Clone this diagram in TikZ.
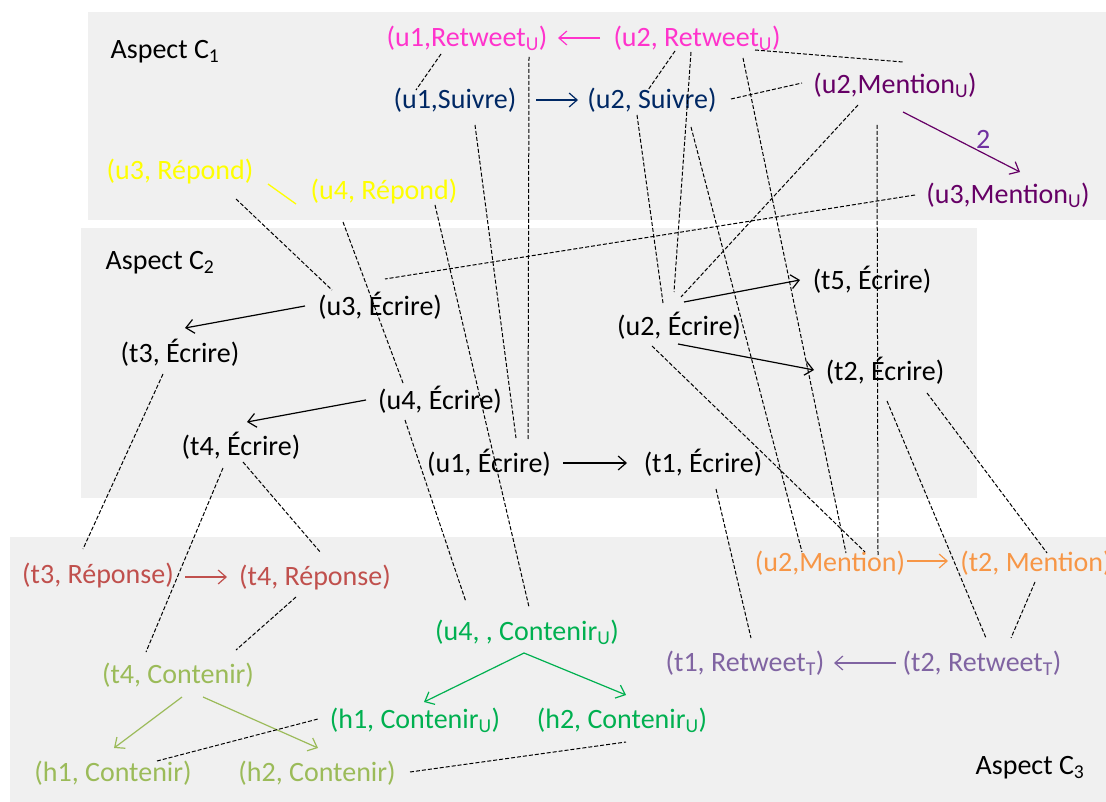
\documentclass[tikz,border=0pt]{standalone}
\usepackage{fontspec}
\setmainfont{Carlito}
\usetikzlibrary{arrows.meta,calc}
\definecolor{boxgray}{RGB}{240,240,240}
\definecolor{cRetU}{RGB}{255,51,204}
\definecolor{cSuiv}{RGB}{0,40,100}
\definecolor{cMenU}{RGB}{102,0,102}
\definecolor{cTwo}{RGB}{112,48,160}
\definecolor{cRep}{RGB}{255,255,0}
\definecolor{cReponse}{RGB}{192,80,77}
\definecolor{cCont}{RGB}{155,187,89}
\definecolor{cContU}{RGB}{0,176,80}
\definecolor{cMen}{RGB}{247,150,70}
\definecolor{cRetT}{RGB}{128,100,162}
\begin{document}
\begin{tikzpicture}[x=1pt,y=-1pt,
  lbl/.style={inner sep=0pt, font=\fontsize{28}{32}\selectfont},
  link/.style={black, line width=1pt, dash pattern=on 4pt off 2pt},
  arr/.style={line width=1.2pt, -{Straight Barb[length=8pt,width=14pt]}},
  aspectbox/.style={fill=boxgray, draw=none}]
\useasboundingbox (0,0) rectangle (1106,802);
% aspect boxes
\fill[aspectbox] (88,12) rectangle (1112,220);
\fill[aspectbox] (81,228) rectangle (977,498);
\fill[aspectbox] (10,537) rectangle (1112,808);
% aspect C1
\node[lbl] (asp1) at (165,52) {Aspect C\textsubscript{1}};
\node[lbl, text=cRetU] (u1R) at (467,38) {(u1,Retweet\textsubscript{U})};
\node[lbl, text=cRetU] (u2R) at (697,38) {(u2, Retweet\textsubscript{U})};
\node[lbl, text=cSuiv] (u1S) at (455,100) {(u1,Suivre)};
\node[lbl, text=cSuiv] (u2S) at (652,100) {(u2, Suivre)};
\node[lbl, text=cMenU] (u2MU) at (895,85) {(u2,Mention\textsubscript{U})};
\node[lbl, text=cMenU] (u3MU) at (1008,195) {(u3,Mention\textsubscript{U})};
\node[lbl, text=cRep] (u3Rp) at (180,172) {(u3, Répond)};
\node[lbl, text=cRep] (u4Rp) at (384,192) {(u4, Répond)};
% aspect C2
\node[lbl] (asp2) at (160,263) {Aspect C\textsubscript{2}};
\node[lbl] (u3E) at (380,306) {(u3, Écrire)};
\node[lbl] (t3E) at (180,353) {(t3, Écrire)};
\node[lbl] (u4E) at (440,400) {(u4, Écrire)};
\node[lbl] (t4E) at (241,446) {(t4, Écrire)};
\node[lbl] (u1E) at (489,463) {(u1, Écrire)};
\node[lbl] (t1E) at (703,463) {(t1, Écrire)};
\node[lbl] (u2E) at (679,326) {(u2, Écrire)};
\node[lbl] (t5E) at (872,280) {(t5, Écrire)};
\node[lbl] (t2E) at (885,371) {(t2, Écrire)};
% aspect C3
\node[lbl] (asp3) at (1030,768) {Aspect C\textsubscript{3}};
\node[lbl, text=cReponse] (t3Rs) at (98,576) {(t3, Réponse)};
\node[lbl, text=cReponse] (t4Rs) at (315,578) {(t4, Réponse)};
\node[lbl, text=cCont] (t4C) at (178,675) {(t4, Contenir)};
\node[lbl, text=cCont] (h1C) at (113,773) {(h1, Contenir)};
\node[lbl, text=cCont] (h2C) at (317,773) {(h2, Contenir)};
\node[lbl, text=cContU] (u4CU) at (527,632) {(u4, , Contenir\textsubscript{U})};
\node[lbl, text=cContU] (h1CU) at (415,720) {(h1, Contenir\textsubscript{U})};
\node[lbl, text=cContU] (h2CU) at (622,720) {(h2, Contenir\textsubscript{U})};
\node[lbl, text=cMen] (u2M) at (830,563) {(u2,Mention)};
\node[lbl, text=cMen] (t2M) at (1036,563) {(t2, Mention)};
\node[lbl, text=cRetT] (t1RT) at (745,663) {(t1, Retweet\textsubscript{T})};
\node[lbl, text=cRetT] (t2RT) at (982,663) {(t2, Retweet\textsubscript{T})};
% solid arrows
\draw[arr, cMenU] ($(u2MU)+(8,27)$) -- node[pos=0.62, anchor=south west, lbl, text=cTwo] (lab2) {2} ($(u3MU)+(12,-23)$);
\draw[arr, cRetU] ($(u2R)+(-97,0)$) -- ($(u1R)+(91,0)$);
\draw[arr, cSuiv] ($(u1S)+(81,0)$) -- ($(u2S)+(-74,0)$);
\draw[cRep, line width=1.3pt] ($(u3Rp)+(88,12)$) -- ($(u4Rp)+(-88,12)$);
\draw[arr, black] ($(u3E)+(-75,0)$) -- ($(t3E)+(5,-25)$);
\draw[arr, black] ($(u4E)+(-74,0)$) -- ($(t4E)+(6,-24)$);
\draw[arr, black] ($(u1E)+(74,0)$) -- ($(t1E)+(-76,0)$);
\draw[arr, black] ($(u2E)+(5,-24)$) -- ($(t5E)+(-72,0)$);
\draw[arr, black] ($(u2E)+(-1,18)$) -- ($(t2E)+(-71,-1)$);
\draw[arr, cReponse] ($(t3Rs)+(87,1)$) -- ($(t4Rs)+(-88,-1)$);
\draw[arr, cCont] ($(t4C)+(4,22)$) -- ($(h1C)+(1,-25)$);
\draw[arr, cCont] ($(t4C)+(25,22)$) -- ($(h2C)+(1,-25)$);
\draw[arr, cContU] ($(u4CU)+(-3,21)$) -- ($(h1CU)+(9,-18)$);
\draw[arr, cContU] ($(u4CU)+(-3,21)$) -- ($(h2CU)+(4,-25)$);
\draw[arr, cMen] ($(u2M)+(77,-2)$) -- ($(t2M)+(-88,-2)$);
\draw[arr, cRetT] ($(t2RT)+(-86,0)$) -- ($(t1RT)+(89,0)$);
% dashed correspondences
\draw[link] ($(u1R)+(-26,16)$) -- ($(u1S)+(-39,-10)$);
\draw[link] ($(u1R)+(62,19)$) -- ($(u1E)+(39,-23)$);
\draw[link] ($(u1S)+(20,25)$) -- ($(u1E)+(27,-25)$);
\draw[link] ($(u3Rp)+(56,27)$) -- ($(u3E)+(-48,-16)$);
\draw[link] ($(u4Rp)+(-41,30)$) -- ($(u4E)+(-37,-17)$);
\draw[link] ($(u4E)+(-35,20)$) -- ($(u4CU)+(-61,-30)$);
\draw[link] ($(u4Rp)+(51,13)$) -- ($(u4CU)+(2,-25)$);
\draw[link] ($(u2R)+(-22,13)$) -- ($(u2S)+(-4,-10)$);
\draw[link] ($(u2R)+(-6,14)$) -- ($(u2E)+(-5,-34)$);
\draw[link] ($(u2R)+(46,20)$) -- ($(u2M)+(16,-10)$);
\draw[link] ($(u2R)+(58,12)$) -- ($(u2MU)+(8,-23)$);
\draw[link] ($(u2S)+(79,-1)$) -- ($(u2MU)+(-93,-2)$);
\draw[link] ($(u2S)+(-15,15)$) -- ($(u2E)+(-16,-23)$);
\draw[link] ($(u2S)+(39,27)$) -- ($(u2M)+(-28,-11)$);
\draw[link] ($(u2MU)+(-37,20)$) -- ($(u2E)+(2,-29)$);
\draw[link] ($(u2MU)+(-18,40)$) -- ($(u2M)+(48,-7)$);
\draw[link] ($(u3MU)+(-93,0)$) -- ($(u3E)+(5,-27)$);
\draw[link] ($(u2E)+(-27,20)$) -- ($(u2M)+(35,-11)$);
\draw[link] ($(t1E)+(13,26)$) -- ($(t1RT)+(6,-25)$);
\draw[link] ($(t2E)+(2,30)$) -- ($(t2RT)+(4,-25)$);
\draw[link] ($(t2E)+(42,22)$) -- ($(t2M)+(11,-10)$);
\draw[link] ($(t2M)+(-1,19)$) -- ($(t2RT)+(29,-25)$);
\draw[link] ($(t3E)+(-17,21)$) -- ($(t3Rs)+(-15,-27)$);
\draw[link] ($(t4E)+(-18,22)$) -- ($(t4C)+(-32,-23)$);
\draw[link] ($(t4E)+(2,16)$) -- ($(t4Rs)+(6,-25)$);
\draw[link] ($(t4Rs)+(-19,19)$) -- ($(t4C)+(58,-25)$);
\draw[link] ($(h1C)+(44,-12)$) -- ($(h1CU)+(-97,-1)$);
\draw[link] ($(h2C)+(93,-1)$) -- ($(h2CU)+(4,22)$);
\end{tikzpicture}
\end{document}
